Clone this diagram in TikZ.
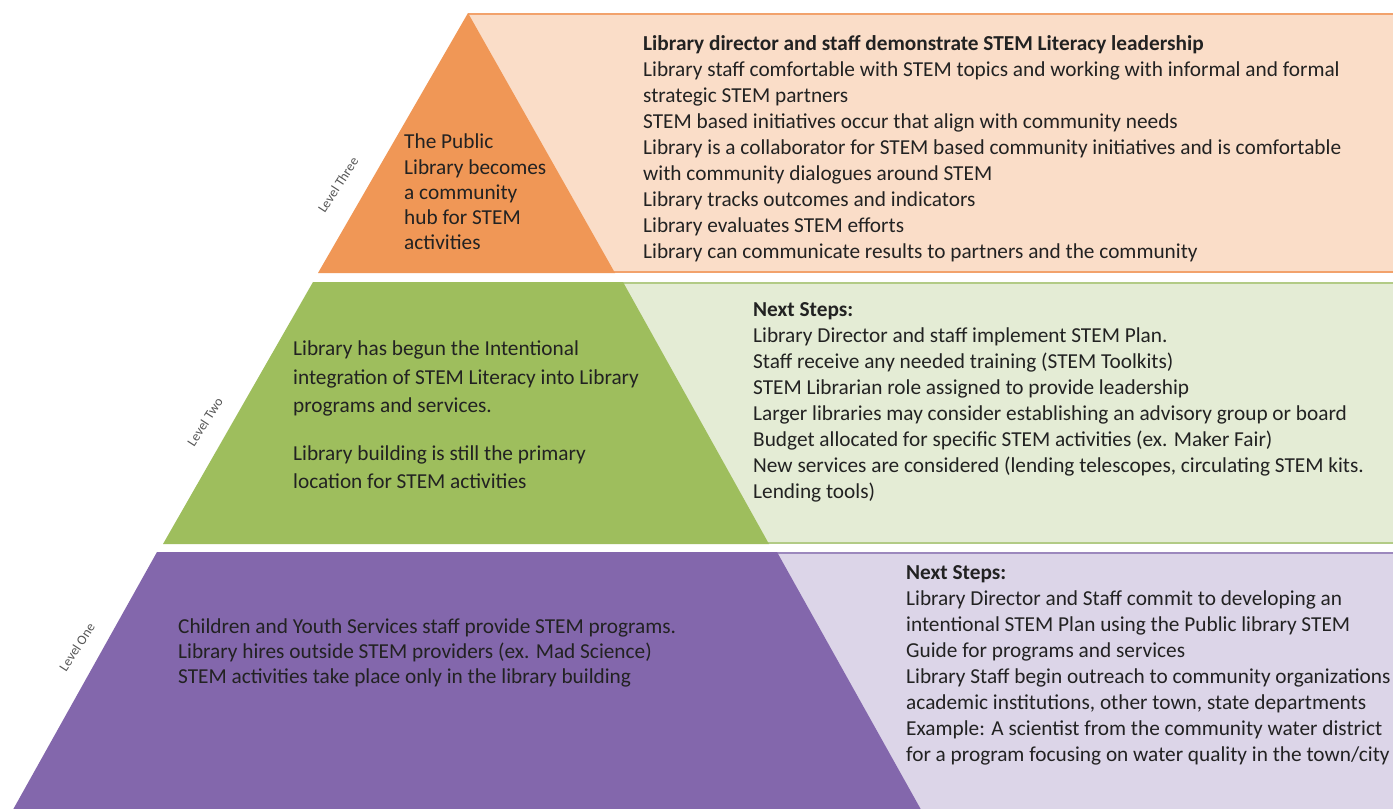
\documentclass[tikz,border=0pt]{standalone}
\usepackage{fontspec}
\setmainfont{Carlito}
\definecolor{orangeD}{HTML}{F09756}
\definecolor{orangeL}{HTML}{FADDC8}
\definecolor{orangeB}{HTML}{F2A26C}
\definecolor{greenD}{HTML}{9EBE5D}
\definecolor{greenL}{HTML}{E4ECD5}
\definecolor{greenB}{HTML}{B2CB86}
\definecolor{purpleD}{HTML}{8367AC}
\definecolor{purpleL}{HTML}{DCD5E8}
\definecolor{purpleB}{HTML}{9C88BD}
\definecolor{txt}{HTML}{222222}
\definecolor{lvl}{HTML}{555555}
\begin{document}
\begin{tikzpicture}[x=1pt,y=-1pt,
  bodytext/.style={anchor=north west,inner sep=0pt,align=left,text=txt,font=\fontsize{21.3}{26}\selectfont},
  lvltext/.style={inner sep=0pt,text=lvl,rotate=57,font=\fontsize{13.5}{14}\selectfont}]
\useasboundingbox (0,0) rectangle (1393,809);
\clip (0,0) rectangle (1393,809);
\fill[white] (0,0) rectangle (1393,809);
% Level three
\fill[orangeL] (468,14) rectangle (1400,272);
\draw[orangeB,line width=2pt] (468,14) -- (1400,14);
\draw[orangeB,line width=2pt] (468,272) -- (1400,272);
\fill[orangeD] (468,13) -- (615,273) -- (318,273) -- cycle;
% Level two
\fill[greenL] (623,283) rectangle (1400,543);
\draw[greenB,line width=2pt] (623,283) -- (1400,283);
\draw[greenB,line width=2pt] (623,543) -- (1400,543);
\fill[greenD] (313,282) -- (623,282) -- (769,544) -- (163,544) -- cycle;
% Level one
\fill[purpleL] (777,553) rectangle (1400,815);
\draw[purpleB,line width=2pt] (777,553) -- (1400,553);
\fill[purpleD] (157,552) -- (777,552) -- (924,815) -- (10,815) -- cycle;
% level labels
\node[lvltext] (l3) at (338,185) {Level Three};
\node[lvltext] (l2) at (205,422) {Level Two};
\node[lvltext] (l1) at (77,647) {Level One};
% texts
\node[bodytext,font=\fontsize{21.3}{25.2}\selectfont] (t3) at (404,134) {The Public\\Library becomes\\a community\\hub for STEM\\activities};
\node[bodytext] (r3) at (643,35) {\textbf{Library director and staff demonstrate STEM Literacy leadership}\\
Library staff comfortable with STEM topics and working with informal and formal\\
strategic STEM partners\\
STEM based initiatives occur that align with community needs\\
Library is a collaborator for STEM based community initiatives and is comfortable\\
with community dialogues around STEM\\
Library tracks outcomes and indicators\\
Library evaluates STEM efforts\\
Library can communicate results to partners and the community};
\node[bodytext,font=\fontsize{21.3}{28.5}\selectfont] (t2) at (293,341) {Library has begun the Intentional\\
integration of STEM Literacy into Library\\
programs and services.\\[19pt]
Library building is still the primary\\
location for STEM activities};
\node[bodytext] (r2) at (753,302) {\textbf{Next Steps:}\\
Library Director and staff implement STEM Plan.\\
Staff receive any needed training (STEM Toolkits)\\
STEM Librarian role assigned to provide leadership\\
Larger libraries may consider establishing an advisory group or board\\
Budget allocated for specific STEM activities (ex. Maker Fair)\\
New services are considered (lending telescopes, circulating STEM kits.\\
Lending tools)};
\node[bodytext,font=\fontsize{21.3}{25}\selectfont] (t1) at (178,619) {Children and Youth Services staff provide STEM programs.\\
Library hires outside STEM providers (ex. Mad Science)\\
STEM activities take place only in the library building};
\node[bodytext] (r1) at (906,565) {\textbf{Next Steps:}\\
Library Director and Staff commit to developing an\\
intentional STEM Plan using the Public library STEM\\
Guide for programs and services\\
Library Staff begin outreach to community organizations\\
academic institutions, other town, state departments\\
Example: A scientist from the community water district\\
for a program focusing on water quality in the town/city};
\end{tikzpicture}
\end{document}
